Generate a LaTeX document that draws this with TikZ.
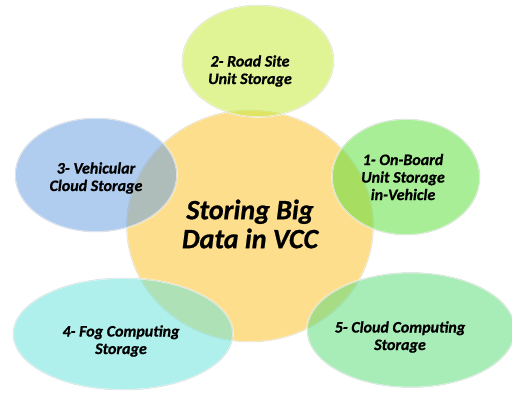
\documentclass[tikz,border=0pt]{standalone}
\usepackage{fontspec}
\setmainfont{Carlito}
\newfontfamily\bubblefont[FakeBold=0.8]{Carlito}
\usetikzlibrary{shapes.geometric}

% bubble colours (mixed with white by the fill opacity)
\definecolor{vcccore}{RGB}{253,216,120}
\definecolor{rsugreen}{RGB}{199,235,64}
\definecolor{vcblue}{RGB}{111,162,224}
\definecolor{obugreen}{RGB}{97,224,64}
\definecolor{fogcyan}{RGB}{111,228,220}
\definecolor{cloudmint}{RGB}{97,220,126}

\begin{document}
\begin{tikzpicture}[x=1pt, y=-1pt,
    bubble/.style={ellipse, inner sep=0pt, fill opacity=0.55,
      draw=white, draw opacity=0.7, line width=1.6pt,
      postaction={draw=black, draw opacity=0.12, line width=0.5pt}},
    bubbletext/.style={align=center, text=black,
      font=\bubblefont\bfseries\itshape\fontsize{16}{17.5}\selectfont}]
    % page frame: 1pt = 1px of the 512x392 picture
    \clip (0,0) rectangle (512,392);
    % central circle
    \node[bubble, fill=vcccore, fill opacity=0.85, minimum width=247, minimum height=232] (core) at (250,226) {};
    \node[align=center, font=\bubblefont\bfseries\itshape\fontsize{28}{29}\selectfont] (coretxt) at (250,224) {Storing Big\\Data in VCC};
    % satellites: 1 right, 2 top, 3 left, 4 bottom left, 5 bottom right
    \node[bubble, fill=rsugreen, minimum width=152, minimum height=112] (rsu) at (258,61) {};
    \node[bubble, fill=vcblue, minimum width=162, minimum height=114] (vc) at (96,175) {};
    \node[bubble, fill=obugreen, minimum width=148, minimum height=116] (obu) at (406,177) {};
    \node[bubble, fill=fogcyan, minimum width=220, minimum height=112] (fog) at (123,334) {};
    \node[bubble, fill=cloudmint, minimum width=208, minimum height=115] (cloud) at (411,330) {};
    % labels (slightly off the bubble centres, as in the original)
    \node[bubbletext] (rsutxt) at ([shift={(-8,10)}]rsu.center) {2- Road Site\\Unit Storage};
    \node[bubbletext] (vctxt) at ([shift={(0,3)}]vc.center) {3- Vehicular\\Cloud Storage};
    \node[bubbletext] (obutxt) at ([shift={(-3,0)}]obu.center) {1- On-Board\\Unit Storage\\in-Vehicle};
    \node[bubbletext] (fogtxt) at ([shift={(-2,7)}]fog.center) {4- Fog Computing\\Storage};
    \node[bubbletext] (cloudtxt) at ([shift={(-11,7)}]cloud.center) {5- Cloud Computing\\Storage};
\end{tikzpicture}
\end{document}
